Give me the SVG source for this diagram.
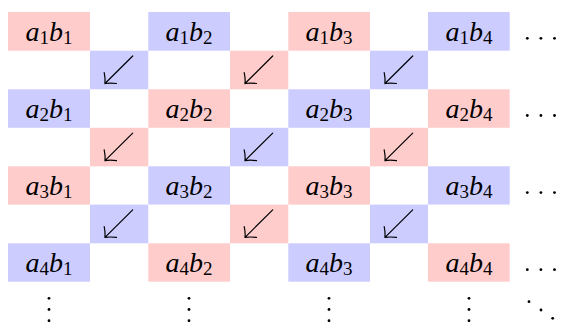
<svg xmlns="http://www.w3.org/2000/svg" width="561" height="322" viewBox="0 0 561 322">
<style>
.r{fill:#FFCCCC}
.b{fill:#CCCCFF}
text{fill:#000;text-anchor:middle}
.s{font-style:normal}
.ar{fill:none;stroke:#000;stroke-width:1.2;stroke-linecap:round}
.d{fill:#000}
</style>
<defs>
<g id="arr">
<path class="ar" d="M42.7,5.3 L15,32.8 M14.2,22 Q15.5,28 15,32.8 Q20,32 26.5,32.8"/>
</g>
</defs>
<g id="cells" font-family="Liberation Serif, serif" font-style="italic" font-size="28">
<g id="n11"><rect class="r" x="8" y="12" width="82" height="38.7"/><text x="49" y="40.5">a<tspan class="s" font-size="19" dy="3">1</tspan><tspan dy="-3">b</tspan><tspan class="s" font-size="19" dy="3">1</tspan></text></g>
<g id="n12"><rect class="b" x="148.3" y="12" width="81.7" height="38.7"/><text x="189" y="40.5">a<tspan class="s" font-size="19" dy="3">1</tspan><tspan dy="-3">b</tspan><tspan class="s" font-size="19" dy="3">2</tspan></text></g>
<g id="n13"><rect class="r" x="288.3" y="12" width="81.7" height="38.7"/><text x="329" y="40.5">a<tspan class="s" font-size="19" dy="3">1</tspan><tspan dy="-3">b</tspan><tspan class="s" font-size="19" dy="3">3</tspan></text></g>
<g id="n14"><rect class="b" x="428" y="12" width="81.7" height="38.7"/><text x="469" y="40.5">a<tspan class="s" font-size="19" dy="3">1</tspan><tspan dy="-3">b</tspan><tspan class="s" font-size="19" dy="3">4</tspan></text></g>

<g id="n21"><rect class="b" x="8" y="89.3" width="82" height="38.5"/><text x="49" y="117.7">a<tspan class="s" font-size="19" dy="3">2</tspan><tspan dy="-3">b</tspan><tspan class="s" font-size="19" dy="3">1</tspan></text></g>
<g id="n22"><rect class="r" x="148.3" y="89.3" width="81.7" height="38.5"/><text x="189" y="117.7">a<tspan class="s" font-size="19" dy="3">2</tspan><tspan dy="-3">b</tspan><tspan class="s" font-size="19" dy="3">2</tspan></text></g>
<g id="n23"><rect class="b" x="288.3" y="89.3" width="81.7" height="38.5"/><text x="329" y="117.7">a<tspan class="s" font-size="19" dy="3">2</tspan><tspan dy="-3">b</tspan><tspan class="s" font-size="19" dy="3">3</tspan></text></g>
<g id="n24"><rect class="r" x="428" y="89.3" width="81.7" height="38.5"/><text x="469" y="117.7">a<tspan class="s" font-size="19" dy="3">2</tspan><tspan dy="-3">b</tspan><tspan class="s" font-size="19" dy="3">4</tspan></text></g>

<g id="n31"><rect class="r" x="8" y="166.3" width="82" height="38.3"/><text x="49" y="194.8">a<tspan class="s" font-size="19" dy="3">3</tspan><tspan dy="-3">b</tspan><tspan class="s" font-size="19" dy="3">1</tspan></text></g>
<g id="n32"><rect class="b" x="148.3" y="166.3" width="81.7" height="38.3"/><text x="189" y="194.8">a<tspan class="s" font-size="19" dy="3">3</tspan><tspan dy="-3">b</tspan><tspan class="s" font-size="19" dy="3">2</tspan></text></g>
<g id="n33"><rect class="r" x="288.3" y="166.3" width="81.7" height="38.3"/><text x="329" y="194.8">a<tspan class="s" font-size="19" dy="3">3</tspan><tspan dy="-3">b</tspan><tspan class="s" font-size="19" dy="3">3</tspan></text></g>
<g id="n34"><rect class="b" x="428" y="166.3" width="81.7" height="38.3"/><text x="469" y="194.8">a<tspan class="s" font-size="19" dy="3">3</tspan><tspan dy="-3">b</tspan><tspan class="s" font-size="19" dy="3">4</tspan></text></g>

<g id="n41"><rect class="b" x="8" y="243.3" width="82" height="38.4"/><text x="49" y="271.8">a<tspan class="s" font-size="19" dy="3">4</tspan><tspan dy="-3">b</tspan><tspan class="s" font-size="19" dy="3">1</tspan></text></g>
<g id="n42"><rect class="r" x="148.3" y="243.3" width="81.7" height="38.4"/><text x="189" y="271.8">a<tspan class="s" font-size="19" dy="3">4</tspan><tspan dy="-3">b</tspan><tspan class="s" font-size="19" dy="3">2</tspan></text></g>
<g id="n43"><rect class="b" x="288.3" y="243.3" width="81.7" height="38.4"/><text x="329" y="271.8">a<tspan class="s" font-size="19" dy="3">4</tspan><tspan dy="-3">b</tspan><tspan class="s" font-size="19" dy="3">3</tspan></text></g>
<g id="n44"><rect class="r" x="428" y="243.3" width="81.7" height="38.4"/><text x="469" y="271.8">a<tspan class="s" font-size="19" dy="3">4</tspan><tspan dy="-3">b</tspan><tspan class="s" font-size="19" dy="3">4</tspan></text></g>
</g>
<g id="connectors">
<rect class="b" x="90" y="50.7" width="58.3" height="38.6"/><use href="#arr" x="90" y="50.7"/>
<rect class="r" x="230" y="50.7" width="58.3" height="38.6"/><use href="#arr" x="230" y="50.7"/>
<rect class="b" x="370" y="50.7" width="58" height="38.6"/><use href="#arr" x="370" y="50.7"/>

<rect class="r" x="90" y="127.8" width="58.3" height="38.5"/><use href="#arr" x="90" y="127.8"/>
<rect class="b" x="230" y="127.8" width="58.3" height="38.5"/><use href="#arr" x="230" y="127.8"/>
<rect class="r" x="370" y="127.8" width="58" height="38.5"/><use href="#arr" x="370" y="127.8"/>

<rect class="b" x="90" y="204.6" width="58.3" height="38.7"/><use href="#arr" x="90" y="204.6"/>
<rect class="r" x="230" y="204.6" width="58.3" height="38.7"/><use href="#arr" x="230" y="204.6"/>
<rect class="b" x="370" y="204.6" width="58" height="38.7"/><use href="#arr" x="370" y="204.6"/>
</g>
<g id="dots">
<circle class="d" cx="527.3" cy="38.3" r="1.4"/><circle class="d" cx="540.9" cy="38.3" r="1.4"/><circle class="d" cx="554.5" cy="38.3" r="1.4"/>
<circle class="d" cx="527.3" cy="115.5" r="1.4"/><circle class="d" cx="540.9" cy="115.5" r="1.4"/><circle class="d" cx="554.5" cy="115.5" r="1.4"/>
<circle class="d" cx="527.3" cy="192.6" r="1.4"/><circle class="d" cx="540.9" cy="192.6" r="1.4"/><circle class="d" cx="554.5" cy="192.6" r="1.4"/>
<circle class="d" cx="527.3" cy="269.7" r="1.4"/><circle class="d" cx="540.9" cy="269.7" r="1.4"/><circle class="d" cx="554.5" cy="269.7" r="1.4"/>
<circle class="d" cx="49" cy="298.3" r="1.4"/><circle class="d" cx="49" cy="309.5" r="1.4"/><circle class="d" cx="49" cy="320.7" r="1.4"/>
<circle class="d" cx="189" cy="298.3" r="1.4"/><circle class="d" cx="189" cy="309.5" r="1.4"/><circle class="d" cx="189" cy="320.7" r="1.4"/>
<circle class="d" cx="329" cy="298.3" r="1.4"/><circle class="d" cx="329" cy="309.5" r="1.4"/><circle class="d" cx="329" cy="320.7" r="1.4"/>
<circle class="d" cx="469" cy="298.3" r="1.4"/><circle class="d" cx="469" cy="309.5" r="1.4"/><circle class="d" cx="469" cy="320.7" r="1.4"/>
<circle class="d" cx="529" cy="301.7" r="1.4"/><circle class="d" cx="541" cy="310" r="1.4"/><circle class="d" cx="552.7" cy="318.3" r="1.4"/>
</g>
</svg>
